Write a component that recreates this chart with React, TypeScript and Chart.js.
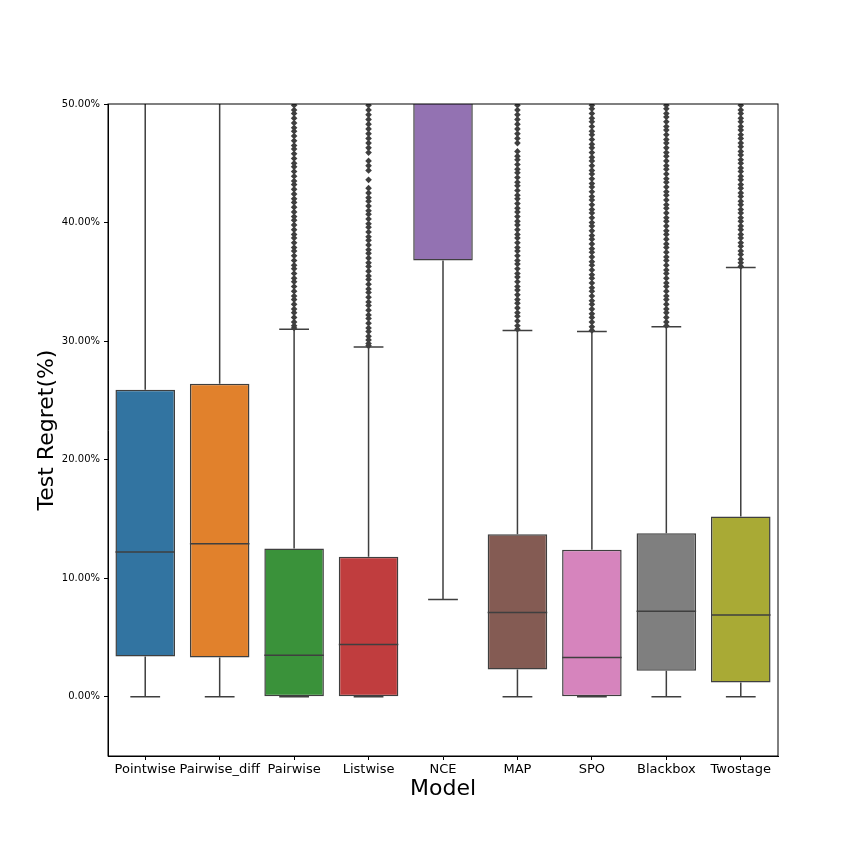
import React, { useEffect, useRef } from "react";
import { Chart, registerables } from "chart.js";

Chart.register(...registerables);

const models = ["Pointwise", "Pairwise_diff", "Pairwise", "Listwise", "NCE", "MAP", "SPO", "Blackbox", "Twostage"];
const q1 = [3.4, 3.3, 0, 0, 36.8, 2.3, 0, 2.2, 1.2];
const medians = [12.2, 12.9, 3.5, 4.4, 58, 7.1, 3.3, 7.2, 6.9];
const q3 = [25.9, 26.4, 12.5, 11.8, 75, 13.7, 12.4, 13.8, 15.2];
const whiskerLow = [0, 0, 0, 0, 8.2, 0, 0, 0, 0];
const whiskerHigh = [62, 63, 31.0, 29.5, 90, 30.9, 30.8, 31.2, 36.2];
const boxColors = ["#3274a1", "#e1812c", "#3a923a", "#c03d3e", "#9372b2", "#845b53", "#d684bd", "#7f7f7f", "#a9aa35"];
const yTicks = [0, 10, 20, 30, 40, 50];

const outliersPairwise = [31.1, 31.3, 31.6, 32.0, 32.4, 32.7, 33.1, 33.5, 33.8, 34.2, 34.6, 35.0, 35.3, 35.7, 36.1, 36.4, 36.8, 37.2, 37.6, 37.9, 38.3, 38.7, 39.0, 39.4, 39.8, 40.2, 40.5, 40.9, 41.3, 41.7, 42.0, 42.4, 42.8, 43.2, 43.5, 43.9, 44.3, 44.7, 45.0, 45.4, 45.8, 46.2, 46.5, 46.9, 47.3, 47.7, 48.0, 48.4, 48.8, 49.2, 49.5, 49.9];
const outliersListwise = [29.6, 29.8, 30.1, 30.4, 30.8, 31.1, 31.5, 31.9, 32.2, 32.6, 33.0, 33.3, 33.7, 34.1, 34.4, 34.8, 35.2, 35.5, 35.9, 36.3, 36.6, 37.0, 37.4, 37.7, 38.1, 38.5, 38.8, 39.2, 39.6, 39.9, 40.3, 40.7, 41.0, 41.4, 41.8, 42.1, 42.5, 42.9, 43.6, 44.4, 44.8, 45.2, 45.9, 46.3, 46.7, 47.1, 47.5, 47.9, 48.3, 48.7, 49.1, 49.5, 49.9];
const outliersMAP = [31.0, 31.3, 31.7, 32.1, 32.4, 32.8, 33.2, 33.5, 33.9, 34.3, 34.6, 35.0, 35.4, 35.7, 36.1, 36.5, 36.8, 37.2, 37.6, 37.9, 38.3, 38.7, 39.0, 39.4, 39.8, 40.1, 40.5, 40.9, 41.2, 41.6, 42.0, 42.3, 42.7, 43.1, 43.4, 43.8, 44.2, 44.5, 44.9, 45.3, 45.6, 46.0, 46.7, 47.1, 47.5, 47.9, 48.3, 48.7, 49.1, 49.5, 49.9];
const outliersSPO = [30.9, 31.2, 31.6, 32.0, 32.3, 32.7, 33.1, 33.4, 33.8, 34.2, 34.5, 34.9, 35.3, 35.6, 36.0, 36.4, 36.7, 37.1, 37.5, 37.8, 38.2, 38.6, 38.9, 39.3, 39.7, 40.0, 40.4, 40.8, 41.1, 41.5, 41.9, 42.2, 42.6, 43.0, 43.3, 43.7, 44.1, 44.4, 44.8, 45.2, 45.5, 45.9, 46.3, 46.6, 47.0, 47.4, 47.7, 48.1, 48.5, 48.8, 49.2, 49.6, 49.9];
const outliersBlackbox = [31.3, 31.6, 32.0, 32.4, 32.7, 33.1, 33.5, 33.8, 34.2, 34.6, 34.9, 35.3, 35.7, 36.0, 36.4, 36.8, 37.1, 37.5, 37.9, 38.2, 38.6, 39.0, 39.3, 39.7, 40.1, 40.4, 40.8, 41.2, 41.5, 41.9, 42.3, 42.6, 43.0, 43.4, 43.7, 44.1, 44.5, 44.8, 45.2, 45.6, 45.9, 46.3, 46.7, 47.0, 47.4, 47.8, 48.1, 48.5, 48.9, 49.2, 49.6, 49.9];
const outliersTwostage = [36.3, 36.6, 36.9, 37.3, 37.6, 38.0, 38.3, 38.7, 39.0, 39.4, 39.7, 40.1, 40.4, 40.8, 41.1, 41.5, 41.8, 42.2, 42.5, 42.9, 43.2, 43.6, 43.9, 44.3, 44.6, 45.0, 45.3, 45.7, 46.0, 46.4, 46.7, 47.1, 47.4, 47.8, 48.1, 48.5, 48.8, 49.2, 49.5, 49.9];

const outlierGroups: [string, number[]][] = [
  ["Pairwise", outliersPairwise],
  ["Listwise", outliersListwise],
  ["MAP", outliersMAP],
  ["SPO", outliersSPO],
  ["Blackbox", outliersBlackbox],
  ["Twostage", outliersTwostage],
];

const LINE = "#3f3f3f";
const FONT = "'DejaVu Sans', sans-serif";

const boxPlugin = {
  id: "boxParts",
  beforeDatasetsDraw(chart: any) {
    const { ctx, chartArea, scales } = chart;
    const xs = scales.x, ys = scales.y;
    const step = xs.getPixelForValue(1) - xs.getPixelForValue(0);
    const capHalf = step * 0.8 / 4;
    ctx.save();
    ctx.beginPath();
    ctx.rect(chartArea.left, chartArea.top, chartArea.right - chartArea.left, chartArea.bottom - chartArea.top);
    ctx.clip();
    ctx.strokeStyle = LINE;
    ctx.lineWidth = 1.5;
    models.forEach((_, i) => {
      const x = xs.getPixelForValue(i);
      const yLo = ys.getPixelForValue(whiskerLow[i]);
      const yHi = ys.getPixelForValue(whiskerHigh[i]);
      const yQ1 = ys.getPixelForValue(q1[i]);
      const yQ3 = ys.getPixelForValue(q3[i]);
      ctx.beginPath();
      ctx.moveTo(x, yQ1); ctx.lineTo(x, yLo);
      ctx.moveTo(x, yQ3); ctx.lineTo(x, yHi);
      ctx.moveTo(x - capHalf, yLo); ctx.lineTo(x + capHalf, yLo);
      ctx.moveTo(x - capHalf, yHi); ctx.lineTo(x + capHalf, yHi);
      ctx.stroke();
    });
    ctx.restore();
  },
  afterDatasetsDraw(chart: any) {
    const { ctx, chartArea, scales } = chart;
    const xs = scales.x, ys = scales.y;
    const step = xs.getPixelForValue(1) - xs.getPixelForValue(0);
    const half = step * 0.8 / 2;
    ctx.save();
    ctx.beginPath();
    ctx.rect(chartArea.left, chartArea.top, chartArea.right - chartArea.left, chartArea.bottom - chartArea.top);
    ctx.clip();
    ctx.strokeStyle = LINE;
    ctx.lineWidth = 1.5;
    models.forEach((_, i) => {
      const x = xs.getPixelForValue(i);
      const y = ys.getPixelForValue(medians[i]);
      ctx.beginPath();
      ctx.moveTo(x - half, y); ctx.lineTo(x + half, y);
      ctx.stroke();
    });
    ctx.restore();
  },
  afterDraw(chart: any) {
    const { ctx, chartArea } = chart;
    ctx.save();
    ctx.strokeStyle = "#000";
    ctx.lineWidth = 1;
    ctx.strokeRect(chartArea.left, chartArea.top, chartArea.right - chartArea.left, chartArea.bottom - chartArea.top);
    ctx.restore();
  },
};

export default function App() {
  const ref = useRef<HTMLCanvasElement | null>(null);
  useEffect(() => {
    document.body.style.margin = "0";
    const outlierData: any[] = [];
    outlierGroups.forEach(([m, vals]) => vals.forEach((v) => outlierData.push({ x: m, y: v })));
    const chart = new Chart(ref.current as HTMLCanvasElement, {
      type: "bar",
      data: {
        labels: models,
        datasets: [
          {
            type: "bar",
            data: models.map((_, i) => [q1[i], q3[i]]) as any,
            backgroundColor: boxColors,
            borderColor: LINE,
            borderWidth: 1.5,
            borderSkipped: false,
            barPercentage: 0.8,
            categoryPercentage: 1.0,
            order: 2,
          } as any,
          {
            type: "line",
            data: outlierData,
            showLine: false,
            pointStyle: "rectRot",
            pointRadius: 3.3,
            pointBackgroundColor: LINE,
            pointBorderColor: LINE,
            pointBorderWidth: 0,
            order: 1,
          } as any,
        ],
      },
      options: {
        responsive: false,
        animation: false,
        devicePixelRatio: 1,
        layout: { padding: { top: 104, right: 86, left: 0, bottom: 0 } },
        plugins: { legend: { display: false }, tooltip: { enabled: false } },
        scales: {
          x: {
            afterFit: (s: any) => { s.height = 108; },
            grid: { drawOnChartArea: false, drawTicks: true, tickLength: 4, color: "#000", offset: false },
            border: { display: true, color: "#000" },
            ticks: { color: "#000", font: { family: FONT, size: 13 }, padding: 2, maxRotation: 0, autoSkip: false },
            title: { display: true, text: "Model", color: "#000", font: { family: FONT, size: 22 }, padding: { top: 0, bottom: 62 } },
          },
          y: {
            min: -5,
            max: 50,
            afterFit: (s: any) => { s.width = 108; },
            afterBuildTicks: (s: any) => { s.ticks = yTicks.map((v) => ({ value: v })); },
            grid: { drawOnChartArea: false, drawTicks: true, tickLength: 4, color: "#000" },
            border: { display: true, color: "#000" },
            ticks: { color: "#000", font: { family: FONT, size: 10 }, padding: 4, callback: (v: any) => Number(v).toFixed(2) + "%" },
            title: { display: true, text: "Test Regret(%)", color: "#000", font: { family: FONT, size: 22 }, padding: { top: 34, bottom: 0 } },
          },
        },
      } as any,
      plugins: [boxPlugin],
    });
    return () => chart.destroy();
  }, []);
  return (
    <div style={{ width: 864, height: 864, background: "#fff" }}>
      <canvas ref={ref} width={864} height={864} style={{ display: "block" }} />
    </div>
  );
}
